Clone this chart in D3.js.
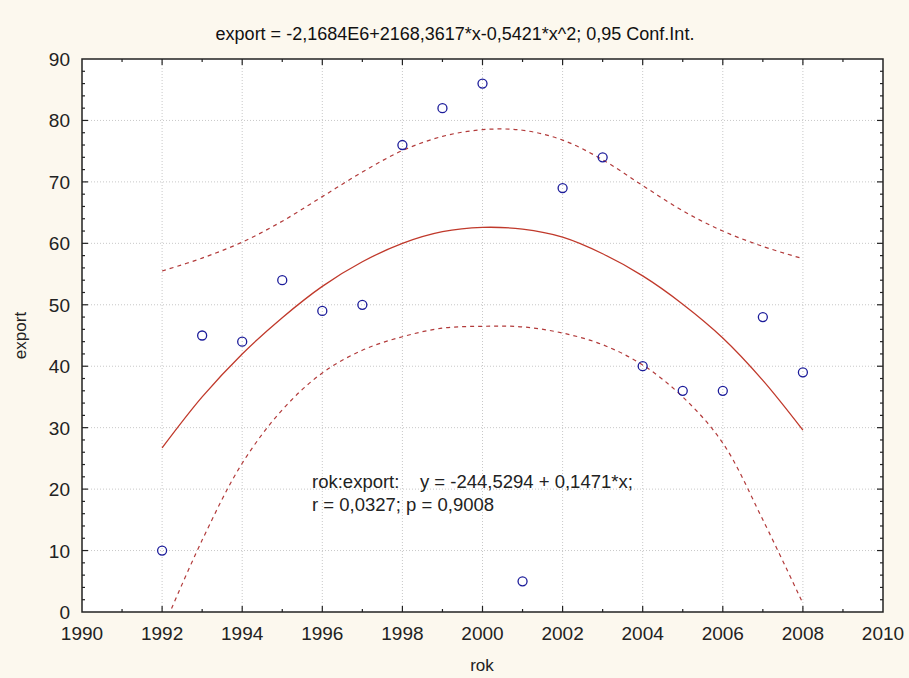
<!DOCTYPE html>
<meta charset="utf-8">
<style>
body { margin: 0; background: #fcf8ee; }
svg { display: block; font-family: Arial, "Liberation Sans", sans-serif; }
.grid line { stroke: #c8c8c8; stroke-dasharray: 1,2; }
.frame { fill: none; stroke: #222; stroke-width: 1.5; }
.tick-mark { stroke: #222; stroke-width: 1.2; }
</style>
<body>
<script src="https://d3js.org/d3.v7.min.js"></script>
<script>
// observed values
var years = [1992, 1993, 1994, 1995, 1996, 1997, 1998, 1999, 2000, 2001, 2002, 2003, 2004, 2005, 2006, 2007, 2008]
var exportVals = [10, 45, 44, 54, 49, 50, 76, 82, 86, 5, 69, 74, 40, 36, 36, 48, 39]

// quadratic fit and 0.95 confidence band
var fitVals = [26.7, 35.0, 42.0, 47.9, 53.0, 57.0, 60.0, 61.9, 62.6, 62.3, 61.0, 58.3, 54.7, 50.1, 44.6, 37.7, 29.6]
var ciUpper = [55.5, 57.6, 60.2, 63.6, 67.6, 71.6, 75.1, 77.4, 78.5, 78.4, 76.8, 73.6, 69.4, 65.3, 62.0, 59.5, 57.5]
var ciLower = [-3.0, 11.7, 24.2, 32.9, 38.9, 42.6, 44.8, 46.2, 46.5, 46.4, 45.4, 43.5, 40.2, 35.0, 27.5, 15.0, 1.4]

var xTicks = [1990, 1992, 1994, 1996, 1998, 2000, 2002, 2004, 2006, 2008, 2010]
var yTicks = [0, 10, 20, 30, 40, 50, 60, 70, 80, 90]

var titleText = 'export = -2,1684E6+2168,3617*x-0,5421*x^2; 0,95 Conf.Int.'
var noteLines = ['rok:export:    y = -244,5294 + 0,1471*x;', 'r = 0,0327; p = 0,9008']

var width = 909
var height = 678
var margin = {top: 59, right: 26, bottom: 66, left: 82}

var x = d3.scaleLinear().domain([1990, 2010]).range([margin.left, width - margin.right])
var y = d3.scaleLinear().domain([0, 90]).range([height - margin.bottom, margin.top])

var svg = d3.select('body').append('svg')
    .attr('width', width)
    .attr('height', height)

svg.append('rect')
    .attr('width', width).attr('height', height)
    .attr('fill', '#fcf8ee')

svg.append('rect')
    .attr('x', x(1990)).attr('y', y(90))
    .attr('width', x(2010) - x(1990)).attr('height', y(0) - y(90))
    .attr('fill', '#fff')

svg.append('clipPath').attr('id', 'plot')
    .append('rect')
    .attr('x', x(1990)).attr('y', y(90))
    .attr('width', x(2010) - x(1990)).attr('height', y(0) - y(90))

// grid
var grid = svg.append('g').attr('class', 'grid')
grid.selectAll('.gx').data(xTicks.slice(1, -1)).enter().append('line')
    .attr('x1', function (d) { return x(d) }).attr('x2', function (d) { return x(d) })
    .attr('y1', y(90)).attr('y2', y(0))
grid.selectAll('.gy').data(yTicks.slice(1, -1)).enter().append('line')
    .attr('y1', function (d) { return y(d) }).attr('y2', function (d) { return y(d) })
    .attr('x1', x(1990)).attr('x2', x(2010))

// curves
var line = d3.line()
    .x(function (d) { return x(d[0]) })
    .y(function (d) { return y(d[1]) })
    .curve(d3.curveCatmullRom)

var curves = svg.append('g').attr('clip-path', 'url(#plot)')
curves.append('path')
    .datum(d3.zip(years, ciUpper))
    .attr('d', line)
    .attr('fill', 'none').attr('stroke', '#b23a3a').attr('stroke-width', 1.2)
    .attr('stroke-dasharray', '4,4')
curves.append('path')
    .datum(d3.zip(years, ciLower))
    .attr('d', line)
    .attr('fill', 'none').attr('stroke', '#b23a3a').attr('stroke-width', 1.2)
    .attr('stroke-dasharray', '4,4')
curves.append('path')
    .datum(d3.zip(years, fitVals))
    .attr('d', line)
    .attr('fill', 'none').attr('stroke', '#c0392b').attr('stroke-width', 1.3)

// points
svg.append('g').selectAll('circle')
    .data(d3.zip(years, exportVals))
    .enter().append('circle')
    .attr('cx', function (d) { return x(d[0]) })
    .attr('cy', function (d) { return y(d[1]) })
    .attr('r', 4.5)
    .attr('fill', 'none')
    .attr('stroke', '#1c1c9a')
    .attr('stroke-width', 1.3)

// frame and ticks
svg.append('rect').attr('class', 'frame')
    .attr('x', x(1990)).attr('y', y(90))
    .attr('width', x(2010) - x(1990)).attr('height', y(0) - y(90))

var ticks = svg.append('g')
var xMinor = d3.range(1991, 2010, 1)
var yMinor = d3.range(2, 90, 2)
xMinor.forEach(function (d) {
    var len = d % 2 === 0 ? 6 : 3
    ticks.append('line').attr('class', 'tick-mark')
        .attr('x1', x(d)).attr('x2', x(d)).attr('y1', y(0)).attr('y2', y(0) - len)
    ticks.append('line').attr('class', 'tick-mark')
        .attr('x1', x(d)).attr('x2', x(d)).attr('y1', y(90)).attr('y2', y(90) + len)
})
yMinor.forEach(function (d) {
    var len = d % 10 === 0 ? 6 : 3
    ticks.append('line').attr('class', 'tick-mark')
        .attr('y1', y(d)).attr('y2', y(d)).attr('x1', x(1990)).attr('x2', x(1990) + len)
    ticks.append('line').attr('class', 'tick-mark')
        .attr('y1', y(d)).attr('y2', y(d)).attr('x1', x(2010)).attr('x2', x(2010) - len)
})

// tick labels
svg.append('g').selectAll('text')
    .data(xTicks).enter().append('text')
    .attr('x', function (d) { return x(d) })
    .attr('y', y(0) + 28)
    .attr('text-anchor', 'middle')
    .attr('font-size', 19)
    .attr('fill', '#222')
    .text(function (d) { return d })

svg.append('g').selectAll('text')
    .data(yTicks).enter().append('text')
    .attr('x', x(1990) - 12)
    .attr('y', function (d) { return y(d) + 7 })
    .attr('text-anchor', 'end')
    .attr('font-size', 19)
    .attr('fill', '#222')
    .text(function (d) { return d })

// titles
svg.append('text')
    .attr('x', 455).attr('y', 40)
    .attr('text-anchor', 'middle')
    .attr('font-size', 18)
    .attr('fill', '#111')
    .text(titleText)

svg.append('text')
    .attr('x', 482).attr('y', 671)
    .attr('text-anchor', 'middle')
    .attr('font-size', 17)
    .attr('fill', '#222')
    .text('rok')

svg.append('text')
    .attr('transform', 'translate(26,' + ((y(0) + y(90)) / 2) + ') rotate(-90)')
    .attr('text-anchor', 'middle')
    .attr('font-size', 17)
    .attr('fill', '#222')
    .text('export')

svg.append('g').selectAll('text')
    .data(noteLines).enter().append('text')
    .attr('x', 312)
    .attr('y', function (d, i) { return 488 + i * 23 })
    .attr('font-size', 18.5)
    .attr('fill', '#222')
    .attr('xml:space', 'preserve')
    .style('white-space', 'pre')
    .text(function (d) { return d })
</script>
</body>
